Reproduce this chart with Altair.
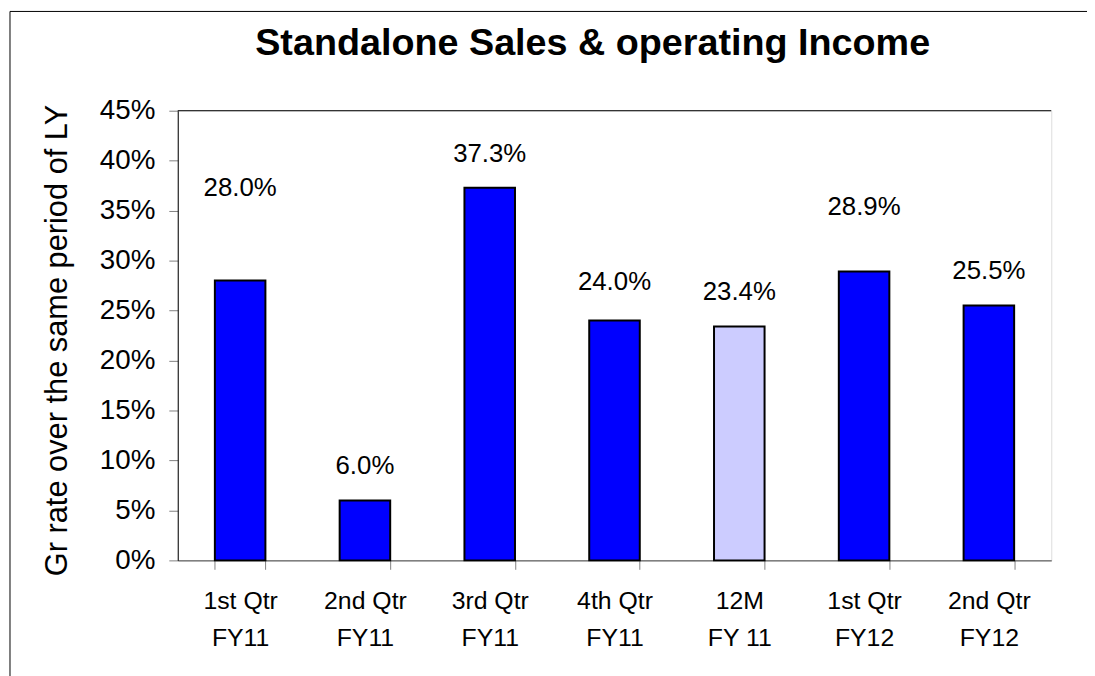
import altair as alt
import pandas as pd

# ---- data ----
periods = ["1st Qtr\nFY11", "2nd Qtr\nFY11", "3rd Qtr\nFY11", "4th Qtr\nFY11",
           "12M\nFY 11", "1st Qtr\nFY12", "2nd Qtr\nFY12"]
growth = [28.0, 6.0, 37.3, 24.0, 23.4, 28.9, 25.5]
kinds = ["Quarter", "Quarter", "Quarter", "Quarter", "Full year", "Quarter", "Quarter"]
# vertical level (in % units) where each data label sits in the reference
label_level = [37.25, 9.45, 40.7, 27.9, 26.9, 35.4, 29.0]
y_ticks = [0, 5, 10, 15, 20, 25, 30, 35, 40, 45]
title_text = "Standalone Sales & operating Income"

df = pd.DataFrame({
    "period": periods,
    "growth": growth,
    "kind": kinds,
    "label_level": label_level,
})
df["label"] = [f"{v:.1f}%" for v in growth]

FONT = "Liberation Sans"
W, H = 880, 453

x_enc = alt.X(
    "period:N", sort=None,
    scale=alt.Scale(paddingInner=0.595, paddingOuter=0.2975),
    axis=alt.Axis(
        title=None, labelAngle=0,
        labelExpr="split(datum.label, '\\n')",
        labelFont=FONT, labelFontSize=25, labelLineHeight=38,
        labelPadding=19, labelColor="black",
        tickBand="extent", tickSize=9, tickColor="#808080",
        domainColor="#404040",
    ),
)

y_axis = alt.Axis(
    values=y_ticks, labelExpr="datum.value + '%'",
    title="Gr rate over the same period of LY",
    titleFont=FONT, titleFontSize=31, titleFontWeight="normal", titleColor="black",
    titleX=-112, titleY=231, titleBaseline="alphabetic", titleAngle=-90, titleAlign="center",
    labelFont=FONT, labelFontSize=28, labelPadding=14, labelColor="black",
    tickSize=9, tickColor="#808080", domainColor="black", grid=False,
)
y_scale = alt.Scale(domain=[0, 45], nice=False)

bars = alt.Chart(df).mark_bar(stroke="black", strokeWidth=2).encode(
    x=x_enc,
    y=alt.Y("growth:Q", scale=y_scale, axis=y_axis),
    color=alt.Color("kind:N",
                    scale=alt.Scale(domain=["Quarter", "Full year"],
                                    range=["#0000FF", "#CCCCFF"]),
                    legend=None),
)

labels = alt.Chart(df).mark_text(font=FONT, fontSize=26, baseline="middle", color="black").encode(
    x=x_enc,
    y=alt.Y("label_level:Q", scale=y_scale, axis=y_axis),
    text="label:N",
)

one = alt.Data(values=[{"t": title_text}])
title = alt.Chart(one).mark_text(font=FONT, fontSize=38, fontWeight="bold",
                                 baseline="alphabetic", align="center", color="black").encode(
    x=alt.value(418), y=alt.value(-56), text="t:N")
top_rule = alt.Chart(one).mark_rule(color="black", strokeWidth=1).encode(
    x=alt.value(0), x2=alt.value(W), y=alt.value(0))
frame_left = alt.Chart(one).mark_rule(color="black", strokeWidth=1).encode(
    x=alt.value(-169), y=alt.value(-100), y2=alt.value(700))
frame_top = alt.Chart(one).mark_rule(color="black", strokeWidth=1).encode(
    x=alt.value(-169), x2=alt.value(1000), y=alt.value(-100))

chart = alt.layer(frame_left, frame_top, title, bars, labels, top_rule).properties(
    width=W, height=H,
    padding={"left": 171, "top": 101, "right": 36, "bottom": 114},
    autosize=alt.AutoSizeParams(type="none"),
).configure_view(stroke="#808080", strokeWidth=1).configure(background="white")

chart.save("out.html", embed_options={"renderer": "svg", "actions": False})
